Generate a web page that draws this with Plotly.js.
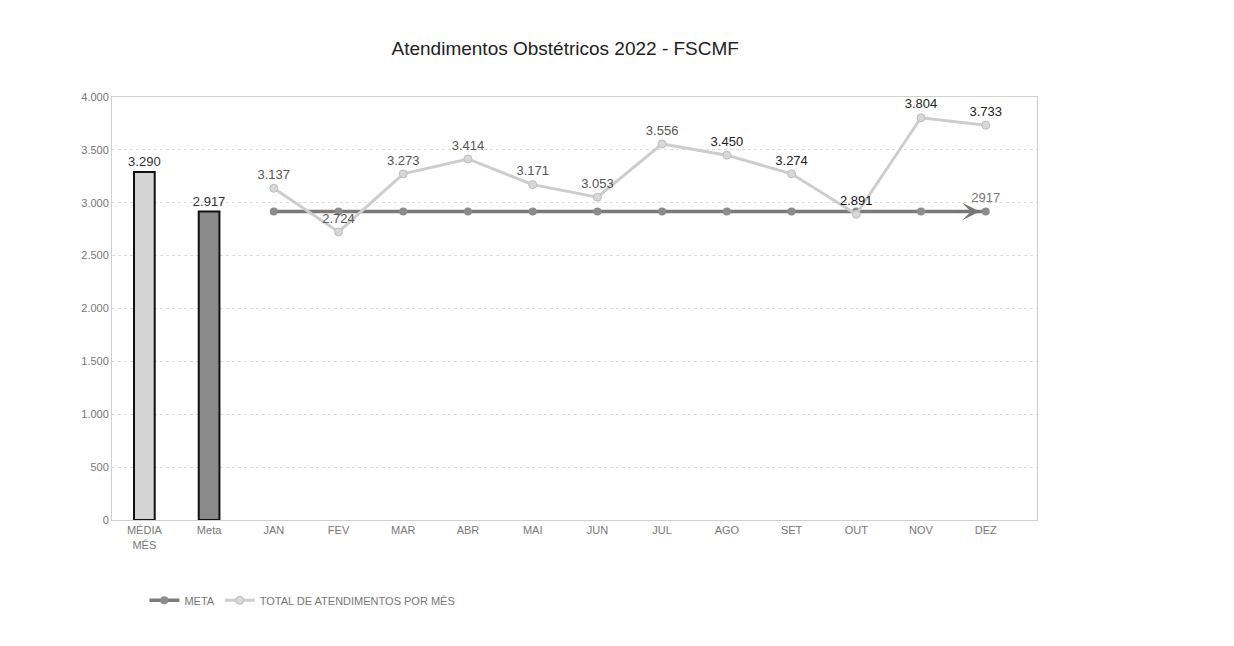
<!DOCTYPE html>
<html>
<head>
<meta charset="utf-8">
<script src="https://cdn.plot.ly/plotly-3.0.1.min.js"></script>
<style>html,body{margin:0;padding:0;background:#fff;}#chart{width:1234px;height:646px;}</style>
</head>
<body>
<div id="chart"></div>
<script>
const barCategories = ['MÉDIA<br>MÊS', 'Meta'];
const barValues = [3290, 2917];
const months = ['JAN','FEV','MAR','ABR','MAI','JUN','JUL','AGO','SET','OUT','NOV','DEZ'];
const metaValues = [2917,2917,2917,2917,2917,2917,2917,2917,2917,2917,2917,2917];
const totalValues = [3137,2724,3273,3414,3171,3053,3556,3450,3274,2891,3804,3733];
const metaLabels = ['','','','','','','','','','','','2917'];
const yTicks = [0,500,1000,1500,2000,2500,3000,3500,4000];

const allCats = barCategories.concat(months);
const font = 'Liberation Sans, Arial, sans-serif';

const traces = [
  {
    type: 'bar', x: barCategories, y: barValues, showlegend: false,
    marker: {color: ['#d4d4d4', '#8a8a8a'], line: {color: '#111', width: 2}},
    width: 0.32,
    text: barValues, texttemplate: '%{y:,.0f}', textposition: 'outside', constraintext: 'none',
    textfont: {family: font, size: 13, color: '#333'}, cliponaxis: false
  },
  {
    type: 'scatter', mode: 'lines+markers+text', name: 'META',
    x: months, y: metaValues,
    line: {color: '#7a7a7a', width: 3.5},
    marker: {color: '#8c8c8c', size: 8, symbol: 'circle'},
    text: metaLabels, textposition: 'top center',
    textfont: {family: font, size: 13, color: '#777'}, cliponaxis: false
  },
  {
    type: 'scatter', mode: 'lines+markers+text', name: 'TOTAL DE ATENDIMENTOS POR MÊS',
    x: months, y: totalValues,
    line: {color: '#cdcdcd', width: 3},
    marker: {color: '#d8d8d8', size: 8, symbol: 'circle', line: {color: '#bdbdbd', width: 1}},
    text: totalValues, texttemplate: '%{y:,.0f}', textposition: 'top center',
    textfont: {family: font, size: 13, color: ['#555','#555','#555','#555','#555','#555','#555','#222','#222','#111','#222','#222']},
    cliponaxis: false
  }
];

const layout = {
  width: 1234, height: 646,
  paper_bgcolor: '#ffffff', plot_bgcolor: '#ffffff',
  separators: ',.',
  margin: {l: 112, r: 197, t: 97, b: 126},
  title: {text: 'Atendimentos Obstétricos 2022 - FSCMF', font: {family: font, size: 19, color: '#222'},
          xref: 'paper', x: 0.49, xanchor: 'center', y: 0.925, yanchor: 'middle'},
  xaxis: {
    type: 'category', categoryorder: 'array', categoryarray: allCats,
    showgrid: false, showline: true, linecolor: '#cfcfcf', linewidth: 1, mirror: true,
    ticks: '', tickfont: {family: font, size: 11, color: '#777'}
  },
  yaxis: {
    range: [0, 4000], tickvals: yTicks, tickformat: ',.0f',
    showgrid: true, gridcolor: '#dcdcdc', griddash: 'dot', gridwidth: 1,
    showline: true, linecolor: '#cfcfcf', linewidth: 1, mirror: true, zeroline: false,
    ticks: '', ticklen: 0, tickfont: {family: font, size: 11, color: '#777'}
  },
  showlegend: true,
  legend: {orientation: 'h', x: 0.035, xanchor: 'left', y: -0.19, yanchor: 'middle',
           font: {family: font, size: 11, color: '#777'}, traceorder: 'normal'},
  annotations: [{
    x: months[months.length-1], y: metaValues[metaValues.length-1], xref: 'x', yref: 'y',
    ax: -30, ay: 0, showarrow: true, arrowhead: 3, arrowsize: 1, arrowwidth: 3,
    arrowcolor: '#777', standoff: 6, text: ''
  }]
};

Plotly.newPlot('chart', traces, layout, {displayModeBar: false, responsive: false});
</script>
</body>
</html>
